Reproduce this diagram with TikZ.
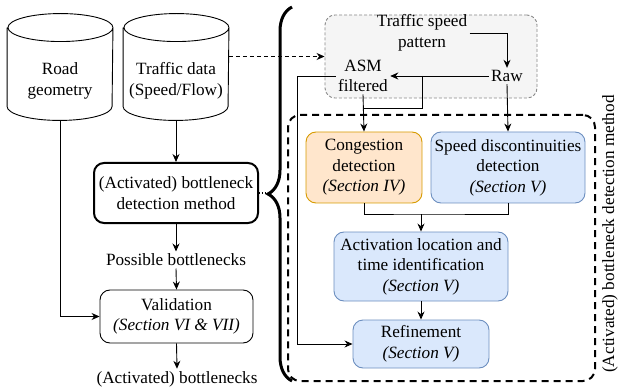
\documentclass[tikz,border=0pt]{standalone}
\usepackage{fontspec}
\setmainfont{Liberation Serif}
\usetikzlibrary{positioning}
\usetikzlibrary{arrows.meta}
\usetikzlibrary{decorations.pathreplacing}
\definecolor{congfill}{HTML}{FFE6CC}
\definecolor{congline}{HTML}{D79B00}
\definecolor{stepfill}{HTML}{DAE8FC}
\definecolor{stepline}{HTML}{6C8EBF}
\definecolor{patfill}{HTML}{F5F5F5}
\definecolor{patline}{HTML}{888888}

\begin{document}
\begin{tikzpicture}
		[x=1pt, y=-1pt, >={Stealth[length=8pt, width=7pt]},
		 font=\fontsize{17.2}{20.5}\selectfont,
		 every node/.style={align=center, inner sep=2pt},
		 every path/.style={line width=0.9pt},
		 db/.style={minimum width=105pt, minimum height=78pt},
		 box/.style={draw, rounded corners=10pt},
		 congbox/.style={box, draw=congline, fill=congfill},
		 stepbox/.style={box, draw=stepline, fill=stepfill}]
		\useasboundingbox (0,0) rectangle (618,390);

		% input data and the main flow
		\node[db] (road) at (60,81) {Road\\geometry};
		\node[db] (data) at (176,81) {Traffic data\\(Speed/Flow)};
		\foreach \n in {road,data}
			\draw ([yshift=14pt]\n.north west) -- ([yshift=14pt]\n.south west)
				arc[start angle=180, end angle=360, x radius=52.5pt, y radius=14pt]
				-- ([yshift=14pt]\n.north east)
				arc[start angle=0, end angle=360, x radius=52.5pt, y radius=14pt];
		\node[box, line width=2pt, minimum width=164pt, minimum height=60pt] (method) at (176,193) {(Activated) bottleneck\\detection method};
		\node (possible) at (176,260) {Possible bottlenecks};
		\node[box, minimum width=153pt, minimum height=53pt] (valid) at (176.5,316.5) {Validation\\\textit{(Section VI \& VII)}};
		\node (result) at (177,379) {(Activated) bottlenecks};

		% speed pattern
		\node[draw=patline, fill=patfill, dash pattern=on 3pt off 2pt, rounded corners=10pt, minimum width=212pt, minimum height=83pt] (patbox) at (431,56.5) {};
		\node (tsp) at (422,33) {Traffic speed\\pattern};
		\node (asm) at (363,76) {ASM\\filtered};
		\node (raw) at (507,76) {Raw};

		% detection method
		\node[draw, line width=2pt, dash pattern=on 7pt off 5pt, rounded corners=12pt, minimum width=307pt, minimum height=266pt] (outer) at (441.5,248) {};
		\node[rotate=90] (lbl) at (610,234) {(Activated) bottleneck detection method};
		\node[congbox, minimum width=116pt, minimum height=71pt] (cong) at (364,167.5) {Congestion\\detection\\\textit{(Section IV)}};
		\node[stepbox, minimum width=154pt, minimum height=71pt] (speed) at (508,167.5) {Speed discontinuities\\detection\\\textit{(Section V)}};
		\node[stepbox, minimum width=174pt, minimum height=69pt] (act) at (421,266.5) {Activation location and\\time identification\\\textit{(Section V)}};
		\node[stepbox, minimum width=136pt, minimum height=48pt] (refine) at (421,344) {Refinement\\\textit{(Section V)}};

		\coordinate (btip) at (268,193);
		\coordinate (btop) at (292,7);
		\coordinate (bbot) at (292,381);
		\coordinate (mrg) at (364,108);
		\coordinate (lft) at (297,76);
		\coordinate (jn) at (422,214);

		\draw[->] (data.south) -- (method.north);
		\draw[->] (method.south) -- (possible.north);
		\draw[->] (possible.south) -- (valid.north);
		\draw[->] (valid.south) -- (result.north);
		\draw[->] (road.south) |- (valid.west);
		\draw[->, dash pattern=on 4pt off 3pt] (data.east |- patbox.west) -- (patbox.west);
		\draw[dotted, line width=1.2pt] (method.east) -- (btip);
		\draw[decorate, decoration={brace, amplitude=24pt}, line width=3pt] (bbot) -- (btop);

		\draw[->] (tsp.east) -| (raw.north);
		\draw[->] (raw.west) -- (asm.east);
		\draw (cong.east |- raw.west) |- (mrg);
		\draw[->] (asm.south) -- (cong.north);
		\draw[->] (asm.west) -- (lft) |- (refine.west);
		\draw[->] (raw.south) -- (speed.north);
		\draw (cong.south) |- (jn) -| (speed.south);
		\draw[->] (act.north |- jn) -- (act.north);
		\draw[->] (act.south) -- (refine.north);
	\end{tikzpicture}
\end{document}
